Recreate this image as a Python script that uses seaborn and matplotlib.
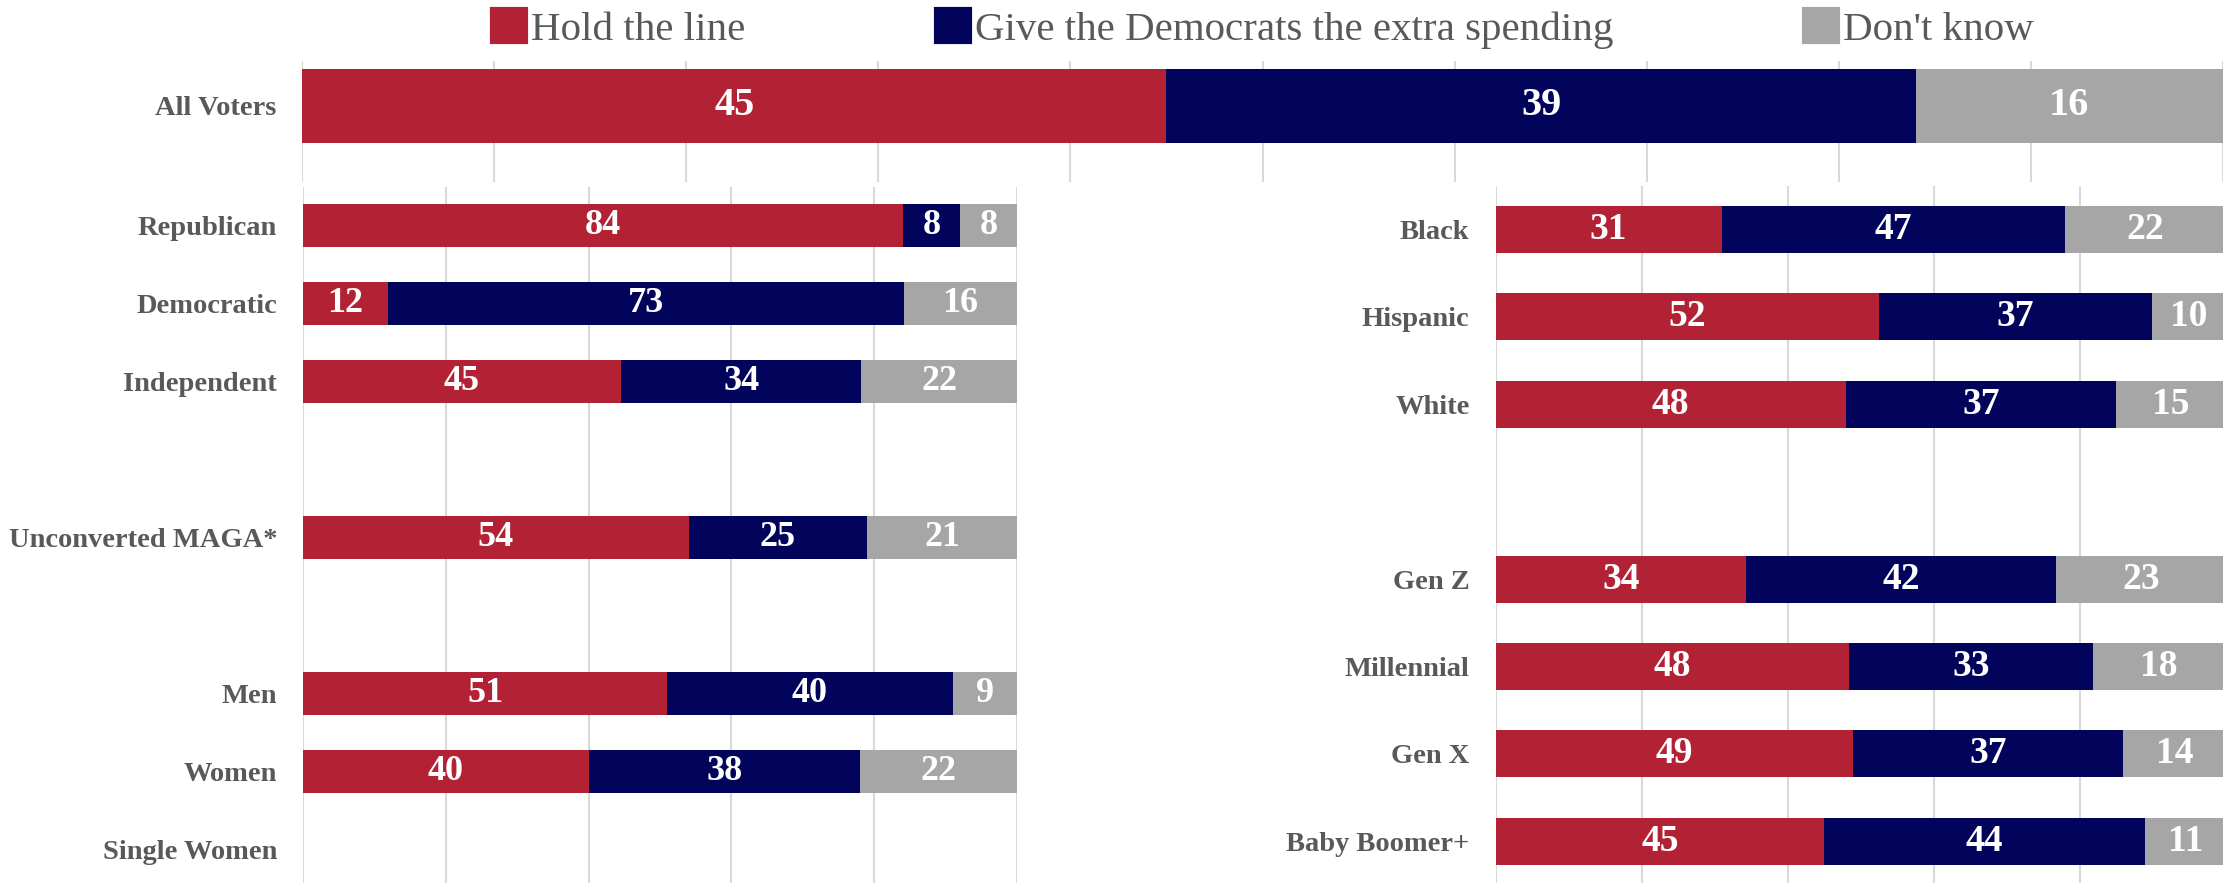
import numpy as np
import pandas as pd
import seaborn as sns
import matplotlib.pyplot as plt
from matplotlib.patches import Patch

# legend / series
series = ['Hold the line', 'Give the Democrats the extra spending', "Don't know"]
colors = ['#B22234', '#02035A', '#A6A6A6']

# top bar
top_labels = ['All Voters']
top_hold = [45]
top_give = [39]
top_dk = [16]

# left panel (blank strings are empty rows)
left_labels = ['Republican', 'Democratic', 'Independent', 'Unconverted MAGA*', 'Men', 'Women']
left_hold = [84, 12, 45, 54, 51, 40]
left_give = [8, 73, 34, 25, 40, 38]
left_dk = [8, 16, 22, 21, 9, 22]
left_order = ['Republican', 'Democratic', 'Independent', ' ', 'Unconverted MAGA*', '  ',
              'Men', 'Women', 'Single Women']

# right panel
right_labels = ['Black', 'Hispanic', 'White', 'Gen Z', 'Millennial', 'Gen X', 'Baby Boomer+']
right_hold = [31, 52, 48, 34, 48, 49, 45]
right_give = [47, 37, 37, 42, 33, 37, 44]
right_dk = [22, 10, 15, 23, 18, 14, 11]
right_order = ['Black', 'Hispanic', 'White', ' ', 'Gen Z', 'Millennial', 'Gen X', 'Baby Boomer+']

sns.set_style('white')
plt.rcParams['font.family'] = ['Liberation Serif', 'DejaVu Serif']

W, H = 2223, 883
fig = plt.figure(figsize=(W / 100, H / 100), dpi=100)


def px_axes(x0, x1, y0, y1):
    # pixel box (top-left origin) -> figure axes
    return fig.add_axes([x0 / W, 1 - y1 / H, (x1 - x0) / W, (y1 - y0) / H])


def stacked(ax, labels, hold, give, dk, order, width, fs, step):
    df = pd.DataFrame({'group': labels, 'hold': hold, 'give': give, 'dk': dk})
    # 100% stacked: shares of each row total
    tot = df['hold'] + df['give'] + df['dk']
    df['c1'] = df['hold'] / tot * 100
    df['c2'] = (df['hold'] + df['give']) / tot * 100
    df['c3'] = 100.0
    for col, c in zip(['c3', 'c2', 'c1'], colors[::-1]):
        sns.barplot(data=df, x=col, y='group', order=order, color=c, saturation=1,
                    width=width, errorbar=None, orient='h', ax=ax, linewidth=0)
    for _, r in df.iterrows():
        y = order.index(r['group'])
        segs = [(r['hold'], 0, r['c1']), (r['give'], r['c1'], r['c2']), (r['dk'], r['c2'], r['c3'])]
        for v, a, b in segs:
            ax.text((a + b) / 2, y, str(v), color='white', fontsize=fs, fontweight='bold',
                    ha='center', va='center')
    ax.set_xlim(0, 100)
    ax.set_xticks(np.arange(0, 101, step))
    ax.grid(axis='x', color='#D9D9D9', linewidth=1.5)
    ax.grid(axis='y', visible=False)
    ax.set_axisbelow(True)
    ax.tick_params(axis='x', length=0, labelbottom=False)
    ax.tick_params(axis='y', length=0, pad=18.7)
    for lab in ax.get_yticklabels():
        lab.set_fontsize(20.5)
        lab.set_fontweight('bold')
        lab.set_color('#595959')
    ax.set_xlabel('')
    ax.set_ylabel('')
    sns.despine(ax=ax, left=True, bottom=True)


ax_top = px_axes(302, 2223, 61, 182)
stacked(ax_top, top_labels, top_hold, top_give, top_dk, top_labels, 0.8, 29, 10)
ax_top.set_ylim(0.822, -0.486)

ax_left = px_axes(303, 1017, 186.5, 888.5)
stacked(ax_left, left_labels, left_hold, left_give, left_dk, left_order, 0.55, 26, 20)
ax_left.set_ylim(len(left_order) - 0.5, -0.5)

ax_right = px_axes(1495.5, 2225.5, 185.8, 885)
stacked(ax_right, right_labels, right_hold, right_give, right_dk, right_order, 0.54, 27, 20)
ax_right.set_ylim(len(right_order) - 0.5, -0.5)

handles = [Patch(facecolor=c, edgecolor=c, linewidth=3, joinstyle='round') for c in colors]
fig.legend(handles, series, loc='center', bbox_to_anchor=(1263 / W, 1 - 29 / H), ncol=3,
           frameon=False, fontsize=29.5, handlelength=0.83, handleheight=0.83,
           handletextpad=0.12, columnspacing=4.66, borderpad=0, borderaxespad=0,
           labelcolor='#595959')

fig.savefig('out.png', dpi=100)
